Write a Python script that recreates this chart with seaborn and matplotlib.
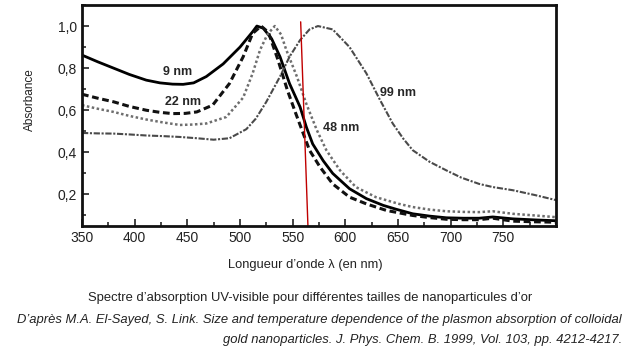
import numpy as np
import pandas as pd
import matplotlib
matplotlib.use("Agg")
import matplotlib.pyplot as plt
import seaborn as sns
from matplotlib.ticker import MultipleLocator, FuncFormatter

# spectra (wavelength in nm, normalised absorbance)
x9 = [350, 365, 380, 395, 411, 424, 436, 446, 456, 468, 484, 500, 512, 516, 522, 530,
      538, 547, 557, 563, 569, 579, 588, 604, 620, 636, 648, 664, 680, 696, 712, 727,
      740, 759, 780, 800]
y9 = [0.862, 0.83, 0.80, 0.77, 0.743, 0.73, 0.724, 0.723, 0.73, 0.76, 0.82, 0.90,
      0.973, 1.0, 0.99, 0.94, 0.854, 0.727, 0.616, 0.52, 0.44, 0.36, 0.30, 0.227,
      0.18, 0.148, 0.13, 0.108, 0.097, 0.089, 0.087, 0.087, 0.093, 0.084, 0.079, 0.075]

x22 = [350, 365, 380, 395, 411, 424, 436, 448, 459, 474, 490, 503, 512, 520, 527, 536,
       545, 553, 560, 566, 576, 588, 604, 620, 639, 664, 680, 696, 712, 727, 740, 759,
       780, 800]
y22 = [0.676, 0.657, 0.64, 0.618, 0.60, 0.59, 0.584, 0.585, 0.592, 0.624, 0.727,
       0.854, 0.965, 1.0, 0.97, 0.84, 0.695, 0.584, 0.49, 0.41, 0.33, 0.25, 0.187,
       0.155, 0.124, 0.10, 0.09, 0.082, 0.08, 0.08, 0.087, 0.073, 0.07, 0.068]

x48 = [350, 365, 380, 395, 411, 427, 443, 455, 468, 487, 503, 512, 519, 526, 533, 539,
       544, 554, 563, 573, 582, 595, 610, 629, 651, 664, 680, 696, 712, 727, 740, 759,
       780, 800]
y48 = [0.624, 0.607, 0.592, 0.573, 0.556, 0.542, 0.53, 0.532, 0.537, 0.568, 0.66,
       0.775, 0.886, 0.96, 1.0, 0.96, 0.886, 0.76, 0.63, 0.505, 0.41, 0.314, 0.235,
       0.187, 0.155, 0.14, 0.128, 0.12, 0.117, 0.116, 0.12, 0.108, 0.1, 0.092]

x99 = [350, 365, 380, 395, 411, 427, 443, 459, 475, 490, 506, 515, 525, 538, 547, 557,
       566, 574, 588, 604, 620, 633, 645, 655, 664, 680, 696, 710, 727, 740, 759, 780,
       800]
y99 = [0.492, 0.49, 0.489, 0.485, 0.48, 0.477, 0.473, 0.467, 0.46, 0.467, 0.51, 0.56,
       0.64, 0.76, 0.854, 0.933, 0.984, 1.0, 0.984, 0.90, 0.775, 0.648, 0.537, 0.465,
       0.41, 0.355, 0.314, 0.28, 0.25, 0.235, 0.22, 0.197, 0.173]

labels = ["9 nm", "22 nm", "48 nm", "99 nm"]
label_x = [441, 446, 596, 650]
label_y = [0.78, 0.638, 0.514, 0.68]

# red marker line drawn on the original
red_x = [557.6, 564.5]
red_y = [1.02, 0.05]

sns.set_style("ticks")
plt.rcParams['font.family'] = ['Liberation Sans', 'DejaVu Sans']

fig = plt.figure(figsize=(6.28, 3.55), dpi=100)
ax = fig.add_axes([82/628, 1-226/355, (556-82)/628, (226-5)/355])

sns.lineplot(x=x9, y=y9, ax=ax, color='black', linewidth=2.0, errorbar=None)
sns.lineplot(x=x22, y=y22, ax=ax, color='#111111', linewidth=2.2,
             linestyle=(0, (2.2, 1.2)), errorbar=None)
sns.lineplot(x=x48, y=y48, ax=ax, color='#6e6e6e', linewidth=1.8,
             linestyle=(0, (1, 1)), errorbar=None)
sns.lineplot(x=x99, y=y99, ax=ax, color='#4a4a4a', linewidth=1.5,
             linestyle=(0, (3, 0.8, 1, 0.8)), errorbar=None)
ax.plot(red_x, red_y, color='#c00000', linewidth=1.0)

for t, lx, ly in zip(labels, label_x, label_y):
    ax.text(lx, ly, t, ha='center', va='center', fontsize=9, fontweight='bold')

ax.set_xlim(350, 800)
ax.set_ylim(0.05, 1.1)
ax.set_xticks([350, 400, 450, 500, 550, 600, 650, 700, 750])
ax.xaxis.set_minor_locator(MultipleLocator(25))
ax.set_yticks([0.2, 0.4, 0.6, 0.8, 1.0])
ax.yaxis.set_minor_locator(MultipleLocator(0.1))
ax.yaxis.set_major_formatter(FuncFormatter(lambda v, p: f"{v:.1f}".replace('.', ',')))
ax.tick_params(which='major', direction='in', length=5, width=1.2, labelsize=10,
               colors='#222222')
ax.tick_params(which='minor', direction='in', length=3, width=1.2)
for s in ax.spines.values():
    s.set_linewidth(2)
    s.set_color('#111111')
ax.set_xlabel('')
ax.set_ylabel('')

fig.text(30/628, 1-100/355, 'Absorbance', rotation=90, ha='center', va='center',
         fontsize=8.5, color='#222222')
fig.text(305/628, 1-265/355, "Longueur d\u2019onde \u03bb (en nm)", ha='center',
         va='center', fontsize=9.3, color='#222222')
fig.text(310/628, 1-298/355,
         "Spectre d\u2019absorption UV-visible pour diff\u00e9rentes tailles de nanoparticules d\u2019or",
         ha='center', va='center', fontsize=9.4, color='#222222')
fig.text(622/628, 1-320/355,
         "D\u2019apr\u00e8s M.A. El-Sayed, S. Link. Size and temperature dependence of the plasmon absorption of colloidal",
         ha='right', va='center', fontsize=9.4, style='italic', color='#222222')
fig.text(622/628, 1-340/355,
         "gold nanoparticles. J. Phys. Chem. B. 1999, Vol. 103, pp. 4212-4217.",
         ha='right', va='center', fontsize=9.4, style='italic', color='#222222')

fig.savefig('out.png', dpi=100)
